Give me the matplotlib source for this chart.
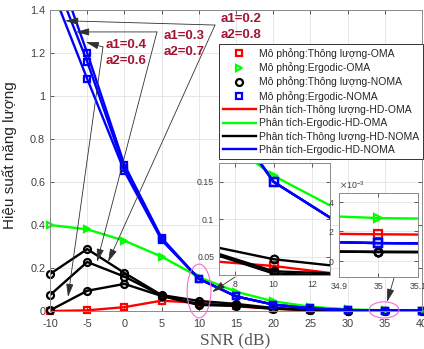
import numpy as np
import matplotlib.pyplot as plt
from matplotlib.patches import Ellipse
from matplotlib.lines import Line2D

plt.rcParams['font.family'] = ['Liberation Sans', 'DejaVu Sans']
plt.rcParams['axes.unicode_minus'] = False

# Data
snr = [-10, -5, 0, 5, 10, 15, 20, 25, 30, 35, 40]

thr_oma = [0.0, 0.003, 0.018, 0.048, 0.038, 0.022, 0.010, 0.005, 0.003, 0.0018, 0.0008]
erg_oma = [0.40, 0.38, 0.327, 0.253, 0.158, 0.09, 0.045, 0.02, 0.008, 0.0029, 0.0012]

# a1=0.2, a1=0.3, a1=0.4
thr_noma = [
    [0.172, 0.288, 0.177, 0.074, 0.047, 0.033, 0.014, 0.006, 0.0015, 0.0006, 0.0003],
    [0.074, 0.228, 0.160, 0.072, 0.031, 0.026, 0.012, 0.005, 0.0015, 0.0006, 0.0003],
    [0.003, 0.094, 0.126, 0.070, 0.028, 0.024, 0.011, 0.005, 0.0015, 0.0006, 0.0003],
]
erg_noma = [
    [1.69, 1.20, 0.680, 0.340, 0.150, 0.068, 0.030, 0.012, 0.004, 0.0012, 0.0004],
    [1.60, 1.16, 0.665, 0.335, 0.150, 0.068, 0.030, 0.012, 0.004, 0.0012, 0.0004],
    [1.52, 1.08, 0.650, 0.330, 0.150, 0.068, 0.030, 0.012, 0.004, 0.0012, 0.0004],
]

labels = ['Mô phỏng:Thông lượng-OMA', 'Mô phỏng:Ergodic-OMA',
          'Mô phỏng:Thông lượng-NOMA', 'Mô phỏng:Ergodic-NOMA',
          'Phân tích-Thông lượng-HD-OMA', 'Phân tích-Ergodic-HD-OMA',
          'Phân tích-Thông lượng-HD-NOMA', 'Phân tích-Ergodic-HD-NOMA']

RED, GREEN, BLACK, BLUE = '#ff0000', '#00ff00', '#000000', '#0000ff'
ANN = '#a2142f'
LW = 1.7


def draw_curves(ax, ms=5, clip=True):
    sty = dict(mfc='none', mew=1.6, ms=ms, ls='none', clip_on=clip)
    ax.plot(snr, thr_oma, color=RED, lw=LW)
    ax.plot(snr, thr_oma, color=RED, marker='s', **sty)
    ax.plot(snr, erg_oma, color=GREEN, lw=LW)
    ax.plot(snr, erg_oma, color=GREEN, marker='>', **sty)
    for s in thr_noma:
        ax.plot(snr, s, color=BLACK, lw=LW)
        ax.plot(snr, s, color=BLACK, marker='o', **sty)
    for s in erg_noma:
        ax.plot(snr, s, color=BLUE, lw=LW)
        ax.plot(snr, s, color=BLUE, marker='s', **sty)


def style_axes(ax, size):
    ax.grid(True, color='#e3e3e3', lw=0.6)
    ax.set_axisbelow(True)
    ax.tick_params(direction='in', length=3, width=0.6, labelsize=size,
                   colors='#404040', top=True, right=True)
    for sp in ax.spines.values():
        sp.set_color('#8a8a8a')
        sp.set_linewidth(0.7)


fig = plt.figure(figsize=(4.24, 3.49), dpi=100)
ax = fig.add_axes([50 / 424, 1 - 311 / 349, 372 / 424, 301 / 349])
draw_curves(ax, clip=False)
style_axes(ax, 7.8)
ax.set_xlim(-10, 40)
ax.set_ylim(0, 1.4)
ax.set_xticks(range(-10, 41, 5))
yt = [0, 0.2, 0.4, 0.6, 0.8, 1, 1.2, 1.4]
ax.set_yticks(yt)
ax.set_yticklabels(['0', '0.2', '0.4', '0.6', '0.8', '1', '1.2', '1.4'])
ax.tick_params(axis='x', pad=6)

ax.set_ylabel('Hiệu suất năng lượng', fontsize=11, color='#262626')
ax.yaxis.set_label_coords(-0.089, 0.518)
ax.set_xlabel('SNR (dB)', fontsize=12.5, color='#555555', family='Liberation Serif')
ax.xaxis.set_label_coords(0.497, -0.072)

# legend
handles = [
    Line2D([], [], color=RED, marker='s', ls='none', mfc='none', mew=1.6, ms=5),
    Line2D([], [], color=GREEN, marker='>', ls='none', mfc='none', mew=1.6, ms=5),
    Line2D([], [], color=BLACK, marker='o', ls='none', mfc='none', mew=1.6, ms=5),
    Line2D([], [], color=BLUE, marker='s', ls='none', mfc='none', mew=1.6, ms=5),
    Line2D([], [], color=RED, lw=LW),
    Line2D([], [], color=GREEN, lw=LW),
    Line2D([], [], color=BLACK, lw=LW),
    Line2D([], [], color=BLUE, lw=LW),
]
leg = ax.legend(handles, labels, loc='upper right',
                bbox_to_anchor=(423 / 424, 1 - 44 / 349), bbox_transform=fig.transFigure,
                fontsize=7.5, handlelength=3.1, handletextpad=0.3, labelspacing=0.32,
                borderpad=0.4, borderaxespad=0, fancybox=False, framealpha=1)
leg.get_frame().set_edgecolor('#333333')
leg.get_frame().set_linewidth(0.7)
leg.set_zorder(7)
for t in leg.get_texts():
    t.set_color('#262626')

# power allocation annotations
arrow = dict(arrowstyle='-|>,head_length=0.8,head_width=0.22', color='#303030',
             lw=0.6, shrinkA=0, shrinkB=0)
notes = [
    ('a1=0.2\na2=0.8', (15.67, 1.323), (12.18, 1.33), [(-7.98, 1.35), (-2.2, 0.228)]),
    ('a1=0.3\na2=0.7', (8.01, 1.242), (4.38, 1.298), [(-6.5, 1.298), (-3.68, 0.228)]),
    ('a1=0.4\na2=0.6', (0.28, 1.20), (-2.88, 1.228), [(-5.2, 1.251), (-7.58, 0.065)]),
]
for txt, tpos, src, targets in notes:
    ax.text(tpos[0], tpos[1], txt, color=ANN, fontsize=9.5, fontweight='bold',
            ha='center', va='center', linespacing=1.45, clip_on=False, zorder=8)
    for tg in targets:
        ax.annotate('', xy=tg, xytext=src, arrowprops=arrow, annotation_clip=False)

# ellipses
ax.add_patch(Ellipse((10.03, 0.093), 3.2, 0.25, fill=False, ec='#f070d0', lw=0.8,
                     zorder=5, clip_on=False))
ax.add_patch(Ellipse((34.9, 0.005), 4.0, 0.075, fill=False, ec='#f070d0', lw=0.8,
                     zorder=5, clip_on=False))
ax.annotate('', xy=(11.77, 0.088), xytext=(14.87, 0.158), arrowprops=arrow)
ax.annotate('', xy=(35.3, 0.042), xytext=(36.24, 0.153), arrowprops=arrow)

# inset 1
ax1 = fig.add_axes([219 / 424, 1 - 275 / 349, 111 / 424, 112 / 349])
draw_curves(ax1, ms=5.5)
style_axes(ax1, 6.3)
ax1.set_xlim(7.2, 12.9)
ax1.set_ylim(0.026, 0.175)
ax1.set_xticks([8, 10, 12])
ax1.set_yticks([0.05, 0.1, 0.15])
ax1.set_yticklabels(['0.05', '0.1', '0.15'])

# inset 2
ax2 = fig.add_axes([339 / 424, 1 - 277 / 349, 79 / 424, 84 / 349])
draw_curves(ax2, ms=5.5)
style_axes(ax2, 6.3)
ax2.set_xlim(34.9, 35.1)
ax2.set_ylim(-0.0011, 0.0046)
ax2.set_xticks([34.9, 35, 35.1])
ax2.set_xticklabels(['34.9', '35', '35.1'])
ax2.set_yticks([0, 0.002, 0.004])
ax2.ticklabel_format(axis='y', style='sci', scilimits=(-3, -3), useMathText=True)
ax2.yaxis.get_offset_text().set_fontsize(6.3)
ax2.yaxis.get_offset_text().set_color('#404040')

fig.savefig('out.png', dpi=100)
